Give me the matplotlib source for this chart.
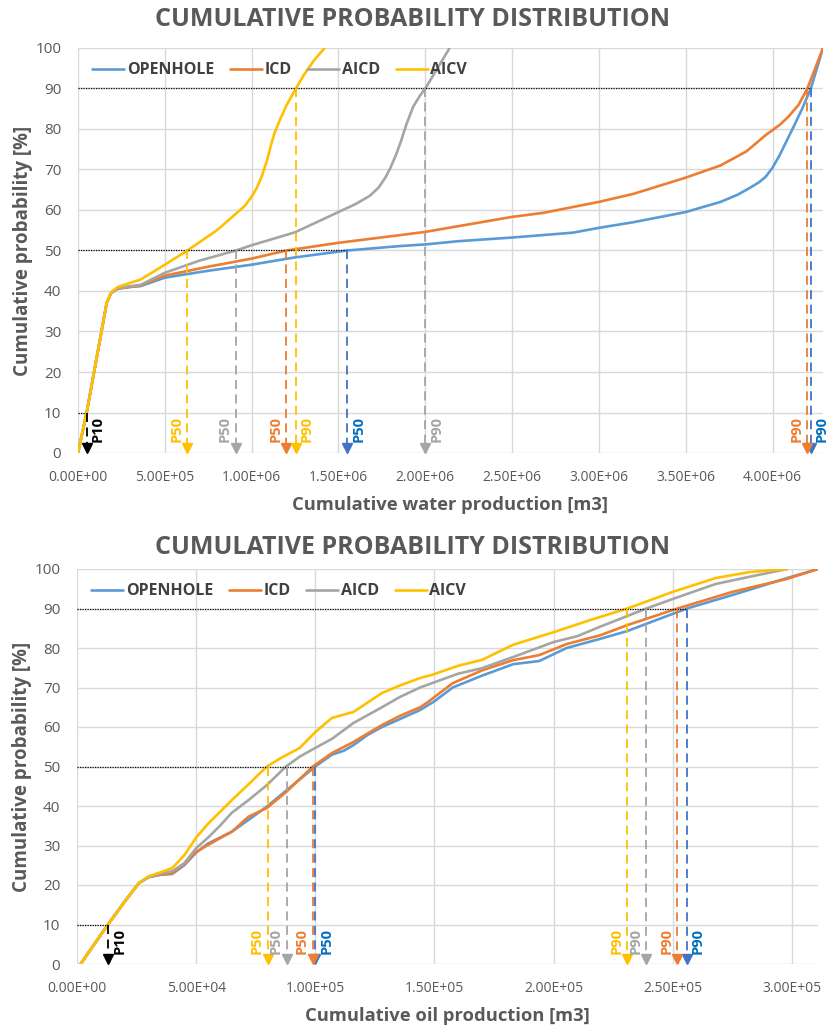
import matplotlib
matplotlib.use('Agg')
import matplotlib.pyplot as plt
from matplotlib.ticker import FuncFormatter

plt.rcParams['font.family'] = ['Open Sans', 'DejaVu Sans']

series = ['OPENHOLE', 'ICD', 'AICD', 'AICV']

# --- water production (m3) vs cumulative probability (%) ---
water_x_openhole = [0, 5.0e4, 1.65e5, 1.9e5, 2.3e5, 3.0e5, 3.6e5, 5.0e5, 7.5e5, 1.0e6, 1.25e6,
                    1.55e6, 1.856e6, 2.0e6, 2.19e6, 2.5e6, 2.85e6, 3.0e6, 3.2e6, 3.5e6, 3.7e6,
                    3.8e6, 3.87e6, 3.92e6, 3.96e6, 4.0e6, 4.04e6, 4.08e6, 4.12e6, 4.17e6, 4.22e6,
                    4.29e6]
water_y_openhole = [0, 10, 37, 39.5, 40.6, 41, 41.2, 43.3, 45, 46.5, 48.3,
                    50, 51.1, 51.5, 52.3, 53.2, 54.4, 55.6, 57, 59.5, 62,
                    63.8, 65.5, 66.8, 68.2, 70.5, 73.5, 77, 80.5, 85, 90,
                    100]
water_x_icd = [0, 5.0e4, 1.65e5, 1.9e5, 2.3e5, 3.0e5, 3.6e5, 5.0e5, 7.5e5, 1.0e6, 1.2e6,
               1.5e6, 1.856e6, 2.0e6, 2.5e6, 2.68e6, 3.0e6, 3.2e6, 3.5e6, 3.7e6, 3.85e6,
               3.96e6, 4.04e6, 4.09e6, 4.15e6, 4.2e6, 4.29e6]
water_y_icd = [0, 10, 37, 39.5, 40.6, 41, 41.4, 43.8, 46, 48, 50,
               51.9, 53.8, 54.6, 58.3, 59.3, 62, 64, 68, 71, 74.5,
               78.5, 81, 83, 86, 90, 100]
water_x_aicd = [0, 5.0e4, 1.65e5, 1.9e5, 2.3e5, 3.0e5, 3.6e5, 5.0e5, 7.0e5, 9.1e5, 1.0e6,
                1.25e6, 1.5e6, 1.6e6, 1.68e6, 1.73e6, 1.77e6, 1.8e6, 1.83e6, 1.86e6, 1.89e6,
                1.93e6, 1.97e6, 2.0e6, 2.07e6, 2.14e6]
water_y_aicd = [0, 10, 37, 39.5, 40.7, 41.2, 41.5, 44.5, 47.5, 50, 51.3,
                54.5, 59.5, 61.5, 63.5, 65.5, 68, 70.5, 73.5, 77, 81,
                85.5, 88.3, 90, 95, 100]
water_x_aicv = [0, 5.0e4, 1.65e5, 1.9e5, 2.3e5, 3.0e5, 3.6e5, 5.0e5, 6.3e5, 8.0e5, 9.15e5,
                9.6e5, 1.0e6, 1.03e6, 1.06e6, 1.09e6, 1.11e6, 1.13e6, 1.16e6, 1.2e6, 1.255e6,
                1.3e6, 1.36e6, 1.42e6]
water_y_aicv = [0, 10, 37, 39.7, 41, 42, 42.8, 46.5, 50, 55, 59.3,
                61, 63.3, 65.5, 68.5, 72.5, 75.8, 78.8, 82, 85.8, 90,
                93.3, 97, 100]

water_p10 = 5.0e4
water_p50 = [1.55e6, 1.2e6, 9.1e5, 6.3e5]
water_p90 = [4.22e6, 4.2e6, 2.0e6, 1.255e6]

# --- oil production (m3) vs cumulative probability (%) ---
oil_x_openhole = [1.5e3, 1.3e4, 2.0e4, 2.6e4, 3.0e4, 3.5e4, 4.0e4, 4.5e4, 5.0e4, 5.5e4, 6.5e4,
                  7.2e4, 8.0e4, 9.0e4, 1.0e5, 1.07e5, 1.12e5, 1.16e5, 1.22e5, 1.28e5, 1.355e5,
                  1.44e5, 1.5e5, 1.577e5, 1.7e5, 1.83e5, 1.94e5, 2.055e5, 2.195e5, 2.31e5, 2.45e5,
                  2.56e5, 2.75e5, 2.98e5, 3.11e5]
oil_y_openhole = [0, 10, 15.8, 20.5, 22, 22.6, 22.8, 25, 28.2, 30.5, 33.5,
                  36.5, 40, 45, 50, 53, 54, 55.4, 58, 60, 62,
                  64.3, 66.5, 70, 73, 75.9, 76.7, 80, 82.3, 84.3, 87.5,
                  90, 93.4, 97.7, 100]
oil_x_icd = [1.5e3, 1.3e4, 2.0e4, 2.6e4, 3.0e4, 3.5e4, 4.0e4, 4.5e4, 5.0e4, 5.87e4, 6.5e4,
             7.2e4, 7.97e4, 8.77e4, 9.9e4, 1.07e5, 1.16e5, 1.28e5, 1.355e5, 1.44e5, 1.468e5,
             1.577e5, 1.703e5, 1.829e5, 1.94e5, 2.055e5, 2.195e5, 2.31e5, 2.52e5, 2.75e5, 2.98e5,
             3.11e5]
oil_y_icd = [0, 10, 15.8, 20.5, 22, 22.6, 23, 25.3, 28.4, 31.4, 33.5,
             37.3, 39.5, 43.5, 50, 53.4, 56.2, 60.5, 62.8, 65, 66.1,
             71.1, 74.4, 76.9, 78.2, 81, 83.2, 85.8, 90, 94.2, 97.5,
             100]
oil_x_aicd = [1.5e3, 1.3e4, 2.0e4, 2.6e4, 3.0e4, 3.5e4, 4.0e4, 4.5e4, 5.0e4, 5.5e4, 6.0e4,
              6.5e4, 7.2e4, 7.97e4, 8.77e4, 9.35e4, 1.0e5, 1.07e5, 1.16e5, 1.28e5, 1.355e5,
              1.44e5, 1.49e5, 1.6e5, 1.7e5, 1.83e5, 2.0e5, 2.1e5, 2.2e5, 2.39e5, 2.5e5,
              2.68e5, 2.82e5, 2.98e5]
oil_y_aicd = [0, 10, 15.8, 20.5, 22, 22.8, 23.5, 25.5, 29.3, 32, 35,
              38.3, 41.5, 45.3, 50, 52.5, 54.7, 57, 61, 65, 67.6,
              70, 71.1, 73.5, 74.9, 77.7, 81.5, 83, 85.5, 90, 92.4,
              96.2, 98, 100]
oil_x_aicv = [1.5e3, 1.3e4, 2.0e4, 2.6e4, 3.0e4, 3.5e4, 4.0e4, 4.5e4, 5.0e4, 5.5e4, 6.0e4,
              6.5e4, 7.2e4, 7.97e4, 8.6e4, 9.35e4, 1.0e5, 1.07e5, 1.16e5, 1.28e5, 1.355e5,
              1.44e5, 1.49e5, 1.6e5, 1.7e5, 1.83e5, 2.0e5, 2.15e5, 2.31e5, 2.5e5, 2.68e5,
              2.82e5, 2.98e5]
oil_y_aicv = [0, 10, 15.8, 20.5, 22.2, 23.2, 24.3, 27.5, 32, 35.5, 38.5,
              41.5, 45.5, 50, 52.3, 54.7, 58.7, 62.3, 63.8, 68.6, 70.5,
              72.4, 73.2, 75.5, 77, 80.8, 84, 87, 90, 94.2, 97.7,
              99.2, 100]

oil_p10 = 1.3e4
oil_p50 = [1.0e5, 9.9e4, 8.8e4, 8.0e4]
oil_p90 = [2.56e5, 2.52e5, 2.39e5, 2.31e5]

line_colors = ['#5B9BD5', '#ED7D31', '#A5A5A5', '#FFC000']
arrow_colors = ['#4472C4', '#ED7D31', '#A5A5A5', '#FFC000']
label_colors = ['#0070C0', '#ED7D31', '#A5A5A5', '#FFC000']
TXT = '#595959'


def sci(v, pos):
    return '{:.2E}'.format(v)


def p_marker(ax, x, top, col, tcol, label, side):
    ax.plot([x, x], [top, 2.0], color=col, ls=(0, (5, 3)), lw=1.3, zorder=4)
    ax.plot(x, 1.25, marker='v', ms=7.5, color=col, mec=col, ls='none', zorder=5, clip_on=False)
    off = 3 if side == 'right' else -3
    ax.annotate(label, (x, 2.6), xytext=(off, 0), textcoords='offset points',
                rotation=90, ha='left' if side == 'right' else 'right', va='bottom',
                color=tcol, fontsize=10.5, fontweight='bold', zorder=6)


def draw_panel(ax, xs, ys, p10, p50, p90, side50, side90, xmax, xstep, xlabel):
    for x, y, c, name in zip(xs, ys, line_colors, series):
        ax.plot(x, y, color=c, lw=1.9, label=name, zorder=3,
                solid_capstyle='round', solid_joinstyle='round')

    # dotted guides from the axis to the P10 / P50 / P90 crossings
    dot = dict(color='black', lw=0.9, ls=(0, (1, 1)), zorder=4)
    ax.plot([0, p10], [10, 10], **dot)
    ax.plot([0, max(p50)], [50, 50], **dot)
    ax.plot([0, max(p90)], [90, 90], **dot)

    p_marker(ax, p10, 10, 'black', 'black', 'P10', 'right')
    for i in range(4):
        p_marker(ax, p50[i], 50, arrow_colors[i], label_colors[i], 'P50', side50[i])
        p_marker(ax, p90[i], 90, arrow_colors[i], label_colors[i], 'P90', side90[i])

    ax.set_xlim(0, xmax)
    ax.set_ylim(0, 100)
    ax.set_xticks([i * xstep for i in range(int(xmax // xstep) + 1)])
    ax.set_yticks(range(0, 101, 10))
    ax.xaxis.set_major_formatter(FuncFormatter(sci))
    ax.grid(True, color='#D9D9D9', lw=1.0, zorder=0)
    ax.set_axisbelow(True)
    for s in ax.spines.values():
        s.set_visible(False)
    ax.tick_params(axis='x', length=0, labelsize=10, labelcolor=TXT, pad=12)
    ax.tick_params(axis='y', length=0, labelsize=11, labelcolor=TXT, pad=12)
    ax.set_xlabel(xlabel, fontsize=13.2, fontweight='bold', color=TXT, labelpad=8.5)
    ax.set_ylabel('Cumulative probability [%]', fontsize=13.5, fontweight='bold', color=TXT, labelpad=2)

    leg = ax.legend(loc='upper left', bbox_to_anchor=(0.0, 1.0), ncol=4, frameon=False,
                    handlelength=2.0, handletextpad=0.15, columnspacing=1.0,
                    prop=dict(weight='bold', size=11.5))
    for t in leg.get_texts():
        t.set_color('#404040')


fig = plt.figure(figsize=(8.26, 10.25), dpi=100)

ax1 = fig.add_axes([78 / 826, 1 - 453 / 1025, (823 - 78) / 826, (453 - 48) / 1025])
draw_panel(ax1,
           [water_x_openhole, water_x_icd, water_x_aicd, water_x_aicv],
           [water_y_openhole, water_y_icd, water_y_aicd, water_y_aicv],
           water_p10, water_p50, water_p90,
           ['right', 'left', 'left', 'left'], ['right', 'left', 'right', 'right'],
           4.29e6, 5e5, 'Cumulative water production [m3]')

ax2 = fig.add_axes([77 / 826, 1 - 964 / 1025, (818 - 77) / 826, (964 - 569) / 1025])
draw_panel(ax2,
           [oil_x_openhole, oil_x_icd, oil_x_aicd, oil_x_aicv],
           [oil_y_openhole, oil_y_icd, oil_y_aicd, oil_y_aicv],
           oil_p10, oil_p50, oil_p90,
           ['right', 'left', 'left', 'left'], ['right', 'left', 'left', 'left'],
           3.11e5, 5e4, 'Cumulative oil production [m3]')

fig.text(0.499, 1 - 20 / 1025, 'CUMULATIVE PROBABILITY DISTRIBUTION', ha='center', va='center',
         fontsize=18, fontweight='bold', color=TXT)
fig.text(0.499, 1 - 548 / 1025, 'CUMULATIVE PROBABILITY DISTRIBUTION', ha='center', va='center',
         fontsize=18, fontweight='bold', color=TXT)

fig.savefig('out.png', dpi=100, facecolor='white')
